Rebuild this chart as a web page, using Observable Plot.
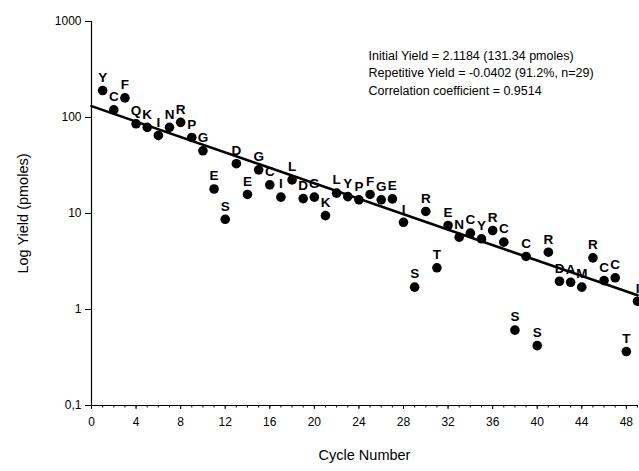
<!DOCTYPE html>
<html>
<head>
<meta charset="utf-8">
<script src="https://cdn.jsdelivr.net/npm/d3@7"></script>
<script src="https://cdn.jsdelivr.net/npm/@observablehq/plot@0.6"></script>
<style>
  html, body { margin: 0; padding: 0; background: #fff; }
  #chart svg { display: block; }
</style>
</head>
<body>
<div id="chart"></div>
<script>
const cycles = [1,2,3,4,5,6,7,8,9,10,11,12,13,14,15,16,17,18,19,20,21,22,23,24,25,26,27,28,29,30,31,32,33,34,35,36,37,38,39,40,41,42,43,44,45,46,47,48,49];
const residues = ["Y","C","F","Q","K","I","N","R","P","G","E","S","D","E","G","C","I","L","D","G","K","L","Y","P","F","G","E","I","S","R","T","E","N","C","Y","R","C","S","C","S","R","D","A","M","R","C","C","T","I"];
const yields = [191,120,160,86,79,65,79,89,62,45,18,8.7,33,15.8,28.5,19.9,14.8,22.4,14.3,14.8,9.5,16.3,15.0,13.9,15.8,13.9,14.2,8.1,1.71,10.5,2.72,7.5,5.66,6.24,5.45,6.65,5.03,0.61,3.57,0.42,3.95,1.97,1.92,1.71,3.45,2.0,2.14,0.365,1.22];

const yTicks = [0.1, 1, 10, 100, 1000];
const yTickLabels = ["0,1", "1", "10", "100", "1000"];
const xTicks = [0,4,8,12,16,20,24,28,32,36,40,44,48];
const xMinorTicks = d3.range(0, 50);

const fitIntercept = 2.1184;   // log10 initial yield
const fitSlope = -0.0402;      // log10 repetitive yield per cycle
const fitRange = [0, 49];

const annotationLines = [
  "Initial Yield = 2.1184 (131.34 pmoles)",
  "Repetitive Yield = -0.0402 (91.2%, n=29)",
  "Correlation coefficient = 0.9514"
];

const points = cycles.map((c, i) => ({cycle: c, yield: yields[i], res: residues[i]}));
const fitLine = fitRange.map(c => ({cycle: c, yield: Math.pow(10, fitIntercept + fitSlope * c)}));

const font = "'Liberation Sans', Arial, Helvetica, sans-serif";

const chart = Plot.plot({
  width: 639,
  height: 471,
  marginLeft: 91,
  marginRight: 2,
  marginTop: 21,
  marginBottom: 66,
  style: {fontFamily: font, fontSize: "12px", color: "#000", background: "#fff"},
  x: {domain: [0, 49]},
  y: {type: "log", domain: [0.1, 1000]},
  marks: [
    Plot.axisX({ticks: xMinorTicks, tickSize: 2.5, text: null, label: null, stroke: "#000"}),
    Plot.axisX({ticks: xTicks, tickSize: 4, tickPadding: 8, fontSize: 12,
                label: "Cycle Number", labelAnchor: "center", labelArrow: "none", labelOffset: 54}),
    Plot.axisY({ticks: yTicks, tickSize: 6, tickPadding: 4, fontSize: 12,
                tickFormat: d => yTickLabels[yTicks.indexOf(d)],
                label: "Log Yield (pmoles)", labelAnchor: "center", labelArrow: "none", labelOffset: 74}),
    Plot.ruleY([0.1], {stroke: "#000", strokeWidth: 1.2}),
    Plot.ruleX([0], {stroke: "#000", strokeWidth: 1.2}),
    Plot.line(fitLine, {x: "cycle", y: "yield", stroke: "#000", strokeWidth: 2.6}),
    Plot.dot(points, {x: "cycle", y: "yield", r: 4.8, fill: "#000", stroke: "none"}),
    Plot.text(points, {x: "cycle", y: "yield", text: "res", dy: -13, fontSize: 13.5, fontWeight: "bold", fill: "#000"}),
    Plot.text([annotationLines.join("\n")], {frameAnchor: "top-left", dx: 277, dy: 26, textAnchor: "start",
               lineAnchor: "top", lineHeight: 1.4, fontSize: 12.5, fill: "#000"})
  ]
});

chart.querySelectorAll("[aria-label='x-axis label'] text, [aria-label='y-axis label'] text").forEach(t => t.setAttribute("font-size", "14.5"));
document.getElementById("chart").appendChild(chart);
</script>
</body>
</html>
